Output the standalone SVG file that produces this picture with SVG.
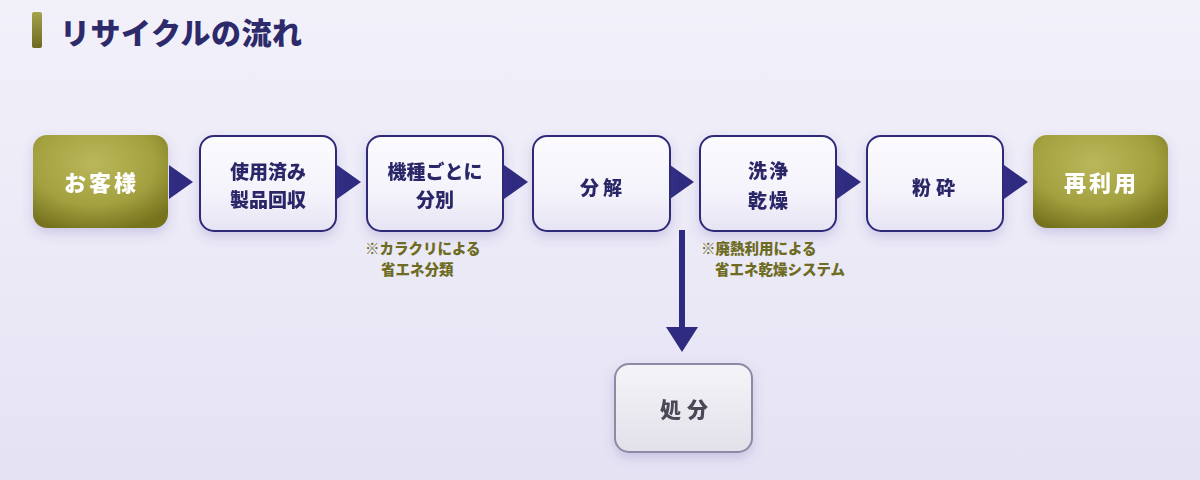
<svg xmlns="http://www.w3.org/2000/svg" width="1200" height="480" viewBox="0 0 1200 480">
<defs>
<linearGradient id="bg" x1="0" y1="0" x2="0" y2="1">
<stop offset="0" stop-color="#f2f1fa"/>
<stop offset="1" stop-color="#e5e3f3"/>
</linearGradient>
<linearGradient id="wfill" x1="0" y1="0" x2="0" y2="1">
<stop offset="0" stop-color="#fbfbfe"/>
<stop offset="0.6" stop-color="#f4f3fb"/>
<stop offset="1" stop-color="#e6e4f3"/>
</linearGradient>
<radialGradient id="gfill" cx="0.45" cy="0.3" r="0.75">
<stop offset="0" stop-color="#b9b75a"/>
<stop offset="0.6" stop-color="#a3a13f"/>
<stop offset="1" stop-color="#76731f"/>
</radialGradient>
<linearGradient id="grey" x1="0" y1="0" x2="0" y2="1">
<stop offset="0" stop-color="#f4f4f8"/>
<stop offset="1" stop-color="#e2e1ea"/>
</linearGradient>
<linearGradient id="bar" x1="0" y1="0" x2="0" y2="1">
<stop offset="0" stop-color="#a4a24a"/>
<stop offset="1" stop-color="#6d6a20"/>
</linearGradient>
<filter id="sh" x="-20%" y="-20%" width="140%" height="150%">
<feDropShadow dx="0" dy="5" stdDeviation="6" flood-color="#5a50a8" flood-opacity="0.22"/>
</filter>
</defs>
<style>
.w{fill:url(#wfill);stroke:#2e2a78;stroke-width:2}
.g{fill:url(#gfill)}
.t{font-family:"Noto Sans CJK JP","Noto Sans",sans-serif;font-weight:900;text-anchor:middle}
.tn{font-size:19px;fill:#2b2868}
.tg{font-size:22px;fill:#ffffff;letter-spacing:3px}
.note{font-family:"Noto Sans CJK JP","Noto Sans",sans-serif;font-weight:900;font-size:14.5px;fill:#6e6b22}
.arr{fill:#2f2b80}
</style>
<rect width="1200" height="480" fill="url(#bg)"/>
<g id="title">
<rect x="32" y="12" width="10" height="36" rx="2" fill="url(#bar)"/>
<text x="60" y="44" font-family="'Noto Sans CJK JP','Noto Sans',sans-serif" font-weight="900" font-size="30" letter-spacing="0.5" fill="#2d2a6b">リサイクルの流れ</text>
</g>
<g id="connectors">
<polygon class="arr" points="169,165 193,182 169,199"/>
<polygon class="arr" points="337,165 361,182 337,199"/>
<polygon class="arr" points="504,165 528,182 504,199"/>
<polygon class="arr" points="670,165 694,182 670,199"/>
<polygon class="arr" points="837,165 861,182 837,199"/>
<polygon class="arr" points="1004,165 1028,182 1004,199"/>
<rect class="arr" x="679" y="230" width="6" height="100"/>
<polygon class="arr" points="666,327 698,327 682,352"/>
</g>
<g id="n1" filter="url(#sh)">
<rect class="g" x="33" y="135" width="135" height="93" rx="14"/>
<text class="t tg" x="101.5" y="191">お客様</text>
</g>
<g id="n2" filter="url(#sh)">
<rect class="w" x="200" y="136" width="136" height="95" rx="14"/>
<text class="t tn" x="268" y="179">使用済み</text>
<text class="t tn" x="268" y="207">製品回収</text>
</g>
<g id="n3" filter="url(#sh)">
<rect class="w" x="367" y="136" width="136" height="95" rx="14"/>
<text class="t tn" x="435" y="179">機種ごとに</text>
<text class="t tn" x="435" y="207">分別</text>
</g>
<g id="n4" filter="url(#sh)">
<rect class="w" x="533" y="136" width="137" height="95" rx="14"/>
<text class="t tn" x="603" y="195" font-size="20" letter-spacing="4">分解</text>
</g>
<g id="n5" filter="url(#sh)">
<rect class="w" x="700" y="136" width="136" height="95" rx="14"/>
<text class="t tn" x="769" y="178" font-size="20" letter-spacing="2">洗浄</text>
<text class="t tn" x="769" y="208" font-size="20" letter-spacing="2">乾燥</text>
</g>
<g id="n6" filter="url(#sh)">
<rect class="w" x="867" y="136" width="136" height="95" rx="14"/>
<text class="t tn" x="936" y="195" font-size="20" letter-spacing="5">粉砕</text>
</g>
<g id="n7" filter="url(#sh)">
<rect class="g" x="1033" y="135" width="135" height="93" rx="14"/>
<text class="t tg" x="1101.5" y="191">再利用</text>
</g>
<g id="n8" filter="url(#sh)">
<rect x="615" y="364" width="137" height="88" rx="14" fill="url(#grey)" stroke="#8d8aa6" stroke-width="2"/>
<text class="t" x="687" y="417" font-size="21" letter-spacing="6" fill="#4a4858">処分</text>
</g>
<g id="notes">
<text class="note" x="365" y="254">※カラクリによる</text>
<text class="note" x="381" y="275">省エネ分類</text>
<text class="note" x="701" y="254">※廃熱利用による</text>
<text class="note" x="715" y="275">省エネ乾燥システム</text>
</g>
</svg>
